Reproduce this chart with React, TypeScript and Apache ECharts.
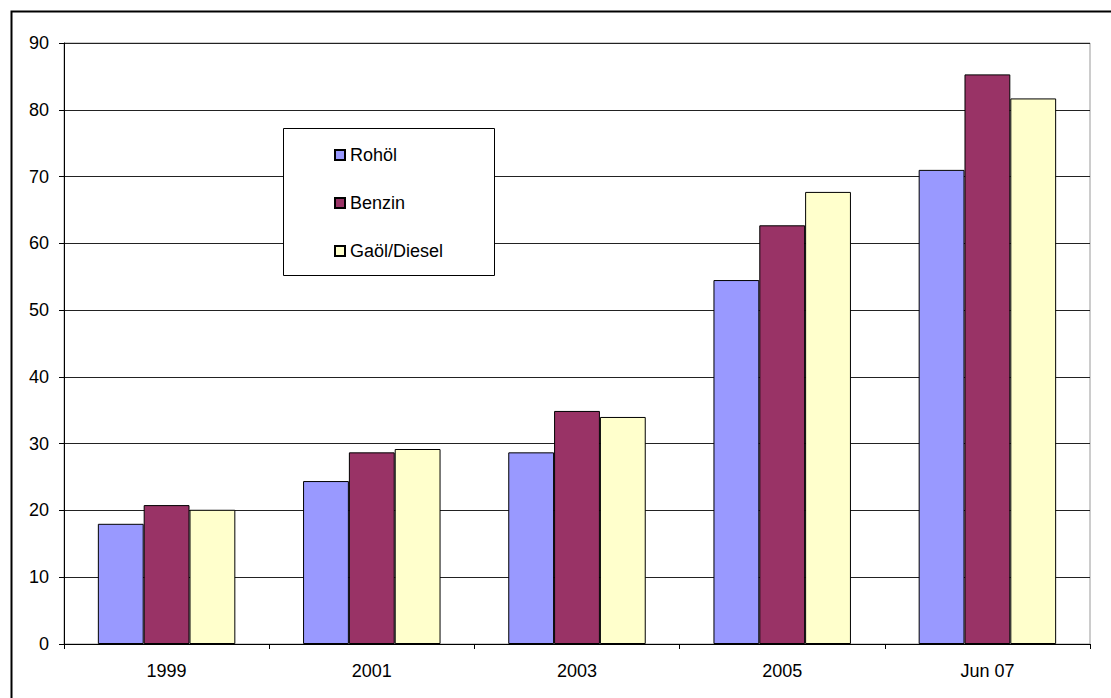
import React, { useEffect, useRef } from "react";
import * as echarts from "echarts";

const categories = ["1999", "2001", "2003", "2005", "Jun 07"];
const rohoel = [18.0, 24.4, 28.7, 54.5, 71.0];
const benzin = [20.8, 28.7, 34.9, 62.7, 85.3];
const diesel = [20.1, 29.2, 34.0, 67.7, 81.7];
const seriesNames = ["Rohöl", "Benzin", "Gaöl/Diesel"];
const colors = ["#9999FF", "#993366", "#FFFFCC"];

const FONT = "'Liberation Sans', Arial, sans-serif";

export default function App() {
  const ref = useRef<HTMLDivElement>(null);
  useEffect(() => {
    if (!ref.current) return;
    const chart = echarts.init(ref.current, undefined, { renderer: "svg" });
    const data = [rohoel, benzin, diesel];
    chart.setOption({
      animation: false,
      backgroundColor: "#ffffff",
      textStyle: { fontFamily: FONT },
      grid: {
        left: 64,
        right: 21,
        top: 43,
        bottom: 54,
        show: true,
        borderColor: "#999",
        borderWidth: 1,
        backgroundColor: "transparent",
      },
      graphic: [
        {
          type: "rect",
          left: 9,
          top: 9,
          shape: { x: 0, y: 0, width: 1130, height: 720 },
          style: { fill: "none", stroke: "#000", lineWidth: 2 },
          z: 100,
        },
        {
          type: "rect",
          shape: { x: 283.5, y: 128.5, width: 211, height: 147 },
          style: { fill: "#fff", stroke: "#000", lineWidth: 1 },
          z: 50,
        },
      ],
      legend: {
        orient: "vertical",
        left: 334,
        top: 146,
        itemWidth: 10,
        itemHeight: 10,
        itemGap: 30,
        padding: 0,
        icon: "rect",
        z: 60,
        textStyle: { fontSize: 18, color: "#000", fontFamily: FONT },
        data: seriesNames,
      },
      xAxis: {
        type: "category",
        data: categories,
        boundaryGap: true,
        axisLine: { show: true, lineStyle: { color: "#000", width: 1 } },
        axisTick: { show: true, length: 5, lineStyle: { color: "#000" } },
        axisLabel: { fontSize: 18, color: "#000", margin: 18, fontFamily: FONT },
        splitLine: { show: false },
      },
      yAxis: {
        type: "value",
        min: 0,
        max: 90,
        interval: 10,
        axisLine: { show: true, lineStyle: { color: "#000", width: 1 } },
        axisTick: { show: true, length: 5, lineStyle: { color: "#000" } },
        axisLabel: { fontSize: 18, color: "#000", margin: 15, fontFamily: FONT },
        splitLine: { show: true, lineStyle: { color: "#222", width: 1 } },
      },
      series: seriesNames.map((name, i) => ({
        name,
        type: "bar",
        data: data[i],
        barGap: "0%",
        barCategoryGap: "33%",
        itemStyle: { color: colors[i], borderColor: "#000", borderWidth: 1 },
      })),
    });
    return () => chart.dispose();
  }, []);
  return (
    <div
      ref={ref}
      style={{ position: "fixed", left: 0, top: 0, width: 1111, height: 698 }}
    />
  );
}
